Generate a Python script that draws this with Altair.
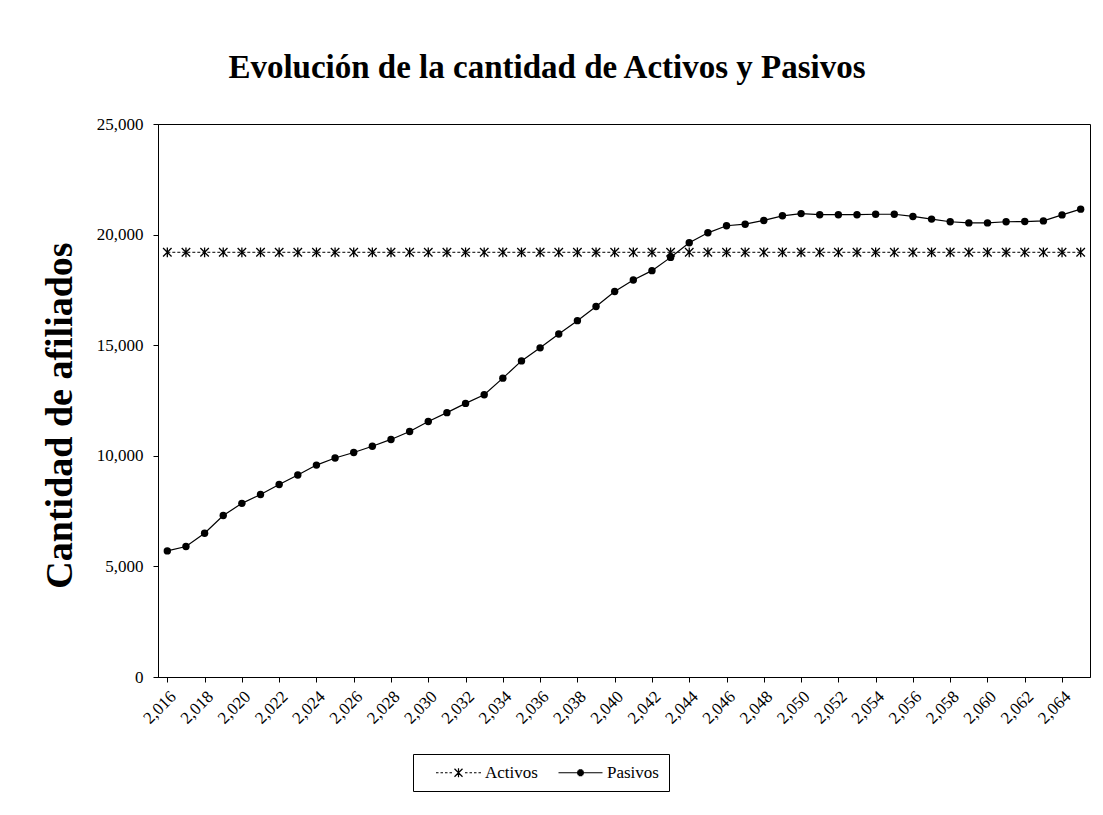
import altair as alt
import pandas as pd

years = [2016, 2017, 2018, 2019, 2020, 2021, 2022, 2023, 2024, 2025,
         2026, 2027, 2028, 2029, 2030, 2031, 2032, 2033, 2034, 2035,
         2036, 2037, 2038, 2039, 2040, 2041, 2042, 2043, 2044, 2045,
         2046, 2047, 2048, 2049, 2050, 2051, 2052, 2053, 2054, 2055,
         2056, 2057, 2058, 2059, 2060, 2061, 2062, 2063, 2064, 2065]

activos = [19200, 19200, 19200, 19200, 19200, 19200, 19200, 19200, 19200, 19200,
           19200, 19200, 19200, 19200, 19200, 19200, 19200, 19200, 19200, 19200,
           19200, 19200, 19200, 19200, 19200, 19200, 19200, 19200, 19200, 19200,
           19200, 19200, 19200, 19200, 19200, 19200, 19200, 19200, 19200, 19200,
           19200, 19200, 19200, 19200, 19200, 19200, 19200, 19200, 19200, 19200]

pasivos = [5700, 5900, 6500, 7300, 7850, 8250, 8700, 9130, 9580, 9900,
           10150, 10430, 10740, 11100, 11550, 11950, 12370, 12760, 13510, 14290,
           14880, 15510, 16110, 16750, 17430, 17950, 18370, 18970, 19630, 20080,
           20400, 20470, 20640, 20850, 20950, 20900, 20900, 20900, 20920, 20920,
           20820, 20700, 20580, 20530, 20530, 20580, 20590, 20620, 20890, 21150]

series_names = ["Activos", "Pasivos"]
x_label_years = [2016, 2018, 2020, 2022, 2024, 2026, 2028, 2030, 2032, 2034,
                 2036, 2038, 2040, 2042, 2044, 2046, 2048, 2050, 2052, 2054,
                 2056, 2058, 2060, 2062, 2064]
y_ticks = [0, 5000, 10000, 15000, 20000, 25000]

title_text = "Evolución de la cantidad de Activos y Pasivos"
y_title = "Cantidad de afiliados"

df = pd.DataFrame({
    "Año": years + years,
    "Serie": [series_names[0]] * len(years) + [series_names[1]] * len(years),
    "Cantidad": activos + pasivos,
})

SERIF = "Liberation Serif"

# marker shapes (unit-box SVG paths, stroked only)
asterisk = "M-1,-1L1,1M-1,1L1,-1M0,-1.15L0,1.15"
leg_activos = ("M-4.5,0L-4,0M-3.6,0L-3.1,0M-2.7,0L-2.2,0M-1.8,0L-1.3,0"
               "M1.3,0L1.8,0M2.2,0L2.7,0M3.1,0L3.6,0M4,0L4.5,0"
               "M-0.8,-0.8L0.8,0.8M-0.8,0.8L0.8,-0.8M0,-0.9L0,0.9")
leg_pasivos = ("M-4.4,0L4.4,0"
               "M-0.36,-0.6L0.36,-0.6M-0.57,-0.4L0.57,-0.4M-0.67,-0.2L0.67,-0.2"
               "M-0.7,0L0.7,0M-0.67,0.2L0.67,0.2M-0.57,0.4L0.57,0.4M-0.36,0.6L0.36,0.6")

base = alt.Chart(df).encode(
    x=alt.X(
        "Año:O",
        scale=alt.Scale(type="point", padding=0.5),
        axis=alt.Axis(
            values=x_label_years,
            labelExpr="format(datum.value, ',')",
            labelAngle=-45,
            labelFont=SERIF,
            labelFontSize=17,
            labelColor="black",
            labelPadding=6,
            tickSize=5,
            tickColor="black",
            domainColor="black",
            title=None,
            grid=False,
        ),
    ),
    y=alt.Y(
        "Cantidad:Q",
        scale=alt.Scale(domain=[0, 25000], nice=False),
        axis=alt.Axis(
            values=y_ticks,
            format=",.0f",
            labelFont=SERIF,
            labelFontSize=17,
            labelColor="black",
            labelPadding=10,
            tickSize=5,
            tickColor="black",
            domainColor="black",
            grid=False,
            title=y_title,
            titleFont=SERIF,
            titleFontSize=38,
            titleFontWeight="bold",
            titleColor="black",
            titleX=-98,
            titleY=291,
            titleAngle=-90,
            titleAlign="center",
            titleBaseline="middle",
        ),
    ),
)

f_act = "datum.Serie == 'Activos'"
f_pas = "datum.Serie == 'Pasivos'"

act_line = base.transform_filter(f_act).mark_line(
    color="black", strokeWidth=1, strokeDash=[3, 2])
act_pts = base.transform_filter(f_act).mark_point(
    shape=asterisk, size=72, color="black", strokeWidth=1.3, opacity=1)
pas_line = base.transform_filter(f_pas).mark_line(color="black", strokeWidth=1.2)
pas_pts = base.transform_filter(f_pas).mark_circle(size=55, color="black", opacity=1)

legend_layer = base.transform_filter("false").mark_point(
    filled=False, stroke="black", strokeWidth=1.2, opacity=1
).encode(
    shape=alt.Shape(
        "Serie:N",
        scale=alt.Scale(domain=series_names, range=[leg_activos, leg_pasivos]),
        legend=alt.Legend(
            title=None,
            orient="none",
            legendX=255,
            legendY=630,
            direction="horizontal",
            symbolSize=100,
            symbolOffset=27,
            labelOffset=18,
            columnPadding=7,
            padding=10,
            strokeColor="black",
            labelFont=SERIF,
            labelFontSize=17,
            labelColor="black",
            symbolStrokeWidth=1.2,
            symbolStrokeColor="black",
        ),
    )
)

chart = alt.layer(act_line, act_pts, pas_line, pas_pts, legend_layer).properties(
    width=932,
    height=553,
    padding={"left": 150, "top": 116, "right": 5, "bottom": 130},
    autosize=alt.AutoSizeParams(type="none"),
    background="white",
    title=alt.TitleParams(
        text=title_text,
        font=SERIF,
        fontSize=33,
        fontWeight="bold",
        color="black",
        anchor="middle",
        dx=-77,
        dy=42,
        offset=46,
        baseline="alphabetic",
    ),
).configure_view(stroke="black", strokeWidth=1)

chart.save("out.html", embed_options={"renderer": "svg", "actions": False})
